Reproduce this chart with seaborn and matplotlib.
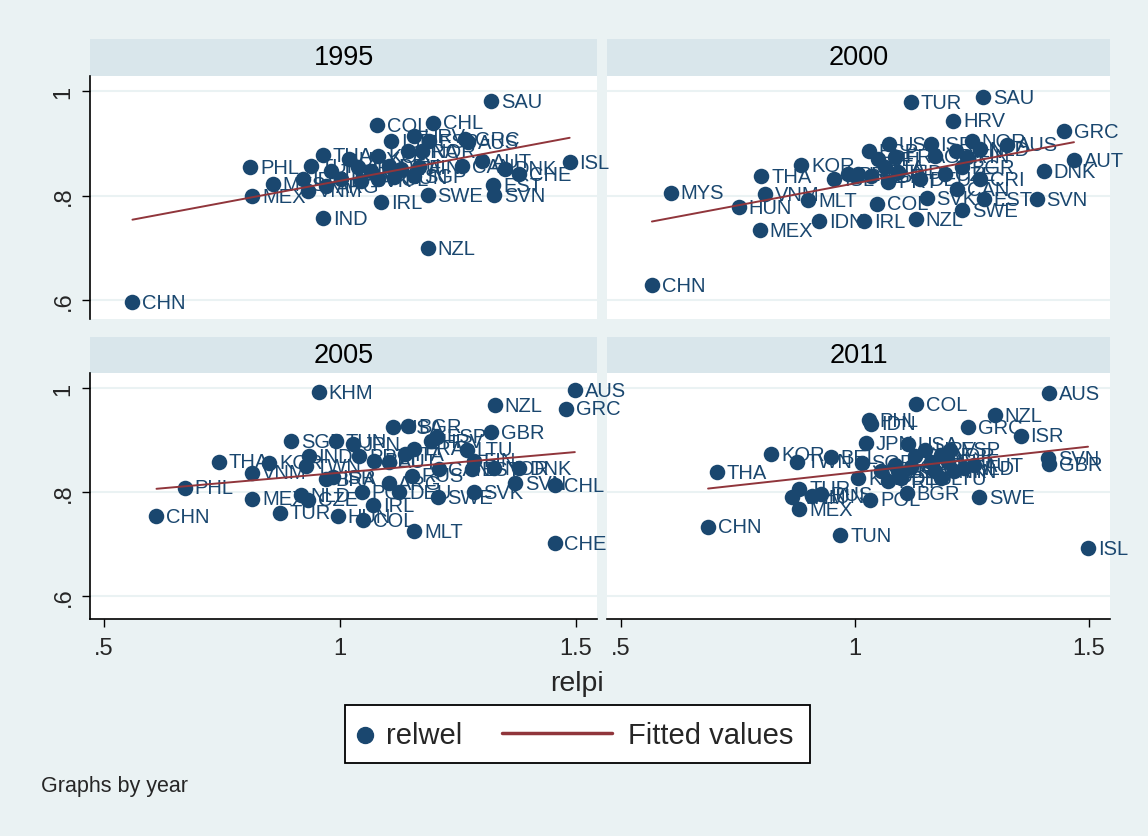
import matplotlib
matplotlib.use("Agg")
import matplotlib.pyplot as plt
from matplotlib.lines import Line2D
from matplotlib.patches import Rectangle
import pandas as pd
import seaborn as sns

## Data
codes_1995 = ["CHN", "PHL", "MEX", "MYS", "VNM", "IND", "THA", "TUR", "IRL", "SWE",
              "NZL", "SAU", "COL", "CHL", "ISL", "EST", "SVN", "AUT", "DNK", "CHE",
              "GRC", "AUS", "NOR", "SGP", "CAN", "ISR", "HRV", "ESP", "KOR", "FRA",
              "URY", "TWN", "JPN", "USA", "DEU", "ITA", "FIN", "BRA", "SVK", "POL",
              "HUN", "ARG", "IDN"]
relpi_1995 = [0.560, 0.810, 0.814, 0.857, 0.932, 0.964, 0.964, 0.938, 1.088, 1.186,
              1.186, 1.321, 1.079, 1.197, 1.487, 1.325, 1.327, 1.301, 1.350, 1.380,
              1.265, 1.271, 1.173, 1.158, 1.259, 1.109, 1.156, 1.188, 1.081, 1.145,
              1.019, 0.981, 1.038, 1.066, 1.103, 1.130, 1.167, 1.002, 1.045, 1.081,
              1.115, 0.970, 0.921]
relwel_1995 = [0.596, 0.854, 0.799, 0.822, 0.809, 0.757, 0.877, 0.856, 0.787, 0.801,
               0.699, 0.981, 0.935, 0.939, 0.864, 0.820, 0.801, 0.866, 0.851, 0.841,
               0.908, 0.902, 0.885, 0.837, 0.856, 0.904, 0.914, 0.904, 0.875, 0.885,
               0.870, 0.847, 0.854, 0.847, 0.856, 0.851, 0.854, 0.831, 0.828, 0.831,
               0.835, 0.818, 0.831]

codes_2000 = ["CHN", "MYS", "HUN", "THA", "VNM", "KOR", "MLT", "MEX", "IDN", "ISL",
              "PHL", "TUR", "SAU", "HRV", "GRC", "AUT", "DNK", "SVN", "SWE", "NZL",
              "IRL", "COL", "EST", "SVK", "CAN", "CRI", "BGR", "NOR", "AUS", "USA",
              "ISR", "ESP", "BEL", "FRA", "ITA", "IND", "DEU", "CZE", "GBR", "JPN",
              "FIN", "NLD", "LTU", "SGP", "PRT", "BRA"]
relpi_2000 = [0.566, 0.606, 0.752, 0.800, 0.807, 0.885, 0.900, 0.796, 0.923, 0.955,
              1.003, 1.119, 1.274, 1.210, 1.447, 1.468, 1.403, 1.388, 1.229, 1.130,
              1.020, 1.048, 1.276, 1.153, 1.219, 1.267, 1.229, 1.250, 1.325, 1.073,
              1.162, 1.029, 1.050, 1.086, 1.065, 1.092, 1.138, 1.193, 1.170, 1.215,
              1.240, 1.267, 1.007, 1.035, 1.071, 0.986]
relwel_2000 = [0.628, 0.805, 0.778, 0.837, 0.803, 0.858, 0.791, 0.734, 0.751, 0.831,
               0.837, 0.979, 0.988, 0.943, 0.923, 0.868, 0.847, 0.793, 0.772, 0.755,
               0.751, 0.784, 0.793, 0.795, 0.812, 0.831, 0.854, 0.904, 0.897, 0.898,
               0.898, 0.885, 0.870, 0.874, 0.854, 0.845, 0.831, 0.841, 0.875, 0.885,
               0.874, 0.889, 0.841, 0.837, 0.826, 0.841]

codes_2005 = ["CHN", "PHL", "THA", "KOR", "VNM", "MEX", "TUR", "SGP", "KHM", "TUN",
              "IND", "TWN", "NLD", "CZE", "HUN", "BRA", "ISR", "AUS", "GRC", "NZL",
              "GBR", "CHE", "CHL", "SVN", "DNK", "SVK", "SWE", "MLT", "IRL", "COL",
              "POL", "DEU", "RUS", "ARG", "CAN", "EST", "NOR", "LTU", "BGR", "USA",
              "HRV", "ESP", "FRA", "ITA", "BEL", "PRT", "JPN", "AUT", "FIN"]
relpi_2005 = [0.611, 0.671, 0.744, 0.850, 0.814, 0.814, 0.872, 0.897, 0.955, 0.991,
              0.934, 0.927, 0.917, 0.932, 0.996, 0.970, 0.985, 1.498, 1.479, 1.329,
              1.321, 1.455, 1.455, 1.372, 1.380, 1.284, 1.207, 1.158, 1.071, 1.049,
              1.047, 1.126, 1.152, 1.103, 1.209, 1.280, 1.327, 1.269, 1.145, 1.113,
              1.194, 1.205, 1.158, 1.137, 1.073, 1.041, 1.028, 1.103, 1.284]
relwel_2005 = [0.754, 0.808, 0.858, 0.856, 0.837, 0.787, 0.760, 0.898, 0.992, 0.898,
               0.869, 0.850, 0.794, 0.785, 0.754, 0.825, 0.829, 0.996, 0.960, 0.967,
               0.915, 0.702, 0.813, 0.817, 0.846, 0.800, 0.790, 0.725, 0.775, 0.746,
               0.800, 0.800, 0.831, 0.817, 0.844, 0.844, 0.846, 0.881, 0.927, 0.925,
               0.898, 0.906, 0.883, 0.873, 0.860, 0.869, 0.892, 0.858, 0.860]

codes_2011 = ["CHN", "THA", "KOR", "TWN", "BEL", "TUR", "VNM", "MEX", "HUN", "RUS",
              "TUN", "ISL", "AUS", "COL", "NZL", "ISR", "GRC", "PHL", "IDN", "JPN",
              "USA", "SVN", "GBR", "SWE", "BGR", "POL", "HRV", "NOR", "ESP", "FRA",
              "ITA", "CZE", "SGP", "KAZ", "PRT", "DEU", "CAN", "DNK", "LTU", "FIN",
              "NLD", "AUT", "CHE", "IRL", "SVK"]
relpi_2011 = [0.686, 0.705, 0.821, 0.876, 0.948, 0.881, 0.866, 0.881, 0.908, 0.927,
              0.969, 1.498, 1.415, 1.130, 1.299, 1.354, 1.242, 1.031, 1.035, 1.024,
              1.113, 1.413, 1.415, 1.265, 1.111, 1.033, 1.149, 1.183, 1.204, 1.128,
              1.086, 1.056, 1.014, 1.007, 1.071, 1.098, 1.119, 1.170, 1.183, 1.212,
              1.234, 1.255, 1.198, 1.162, 1.092]
relwel_2011 = [0.733, 0.838, 0.873, 0.858, 0.867, 0.806, 0.790, 0.767, 0.792, 0.796,
               0.717, 0.692, 0.990, 0.969, 0.948, 0.908, 0.925, 0.938, 0.931, 0.894,
               0.892, 0.865, 0.854, 0.790, 0.798, 0.785, 0.881, 0.871, 0.881, 0.869,
               0.852, 0.840, 0.856, 0.827, 0.821, 0.827, 0.848, 0.840, 0.827, 0.840,
               0.846, 0.852, 0.858, 0.858, 0.840]

years = [1995, 2000, 2005, 2011]
x_ticks = [0.5, 1, 1.5]
x_ticklabels = [".5", "1", "1.5"]
y_ticks = [0.6, 0.8, 1.0]
y_ticklabels = [".6", ".8", "1"]

frames = []
for yr, c, xv, yv in [(1995, codes_1995, relpi_1995, relwel_1995),
                      (2000, codes_2000, relpi_2000, relwel_2000),
                      (2005, codes_2005, relpi_2005, relwel_2005),
                      (2011, codes_2011, relpi_2011, relwel_2011)]:
    frames.append(pd.DataFrame({"year": yr, "code": c, "relpi": xv, "relwel": yv}))
df = pd.concat(frames, ignore_index=True)

# Stata s2color look
BG = "#EAF2F3"
STRIP = "#D9E6EB"
NAVY = "#1A476F"
MAROON = "#90353B"

sns.set_style("white")
plt.rcParams["font.family"] = ["Liberation Sans", "DejaVu Sans"]

W, H = 1148, 837
fig = plt.figure(figsize=(W / 100, H / 100), dpi=100, facecolor=BG)

# panel boxes in pixels: (left, right, top, bottom)
cols = [(90, 597), (607, 1110)]
rows = [(77, 320), (374, 620)]
strips = [(40, 77), (338, 374)]
ylims = [(0.5636, 1.029), (0.556, 1.029)]

for i, yr in enumerate(years):
    r, c = divmod(i, 2)
    l, rr = cols[c]
    t, b = rows[r]
    ax = fig.add_axes([l / W, 1 - b / H, (rr - l) / W, (b - t) / H])
    ax.set_facecolor("white")
    # left panels on top so their labels can run into the gap
    ax.set_zorder(2 if c == 0 else 1)
    sub = df[df["year"] == yr]

    sns.scatterplot(data=sub, x="relpi", y="relwel", ax=ax, s=125, color=NAVY,
                    edgecolor=NAVY, linewidth=0, legend=False, zorder=2)
    for _, row in sub.iterrows():
        ax.annotate(row["code"], (row["relpi"], row["relwel"]), xytext=(7, 0),
                    textcoords="offset points", va="center", ha="left",
                    fontsize=14.5, color=NAVY, zorder=3)
    sns.regplot(data=sub, x="relpi", y="relwel", ax=ax, scatter=False, ci=None,
                truncate=True, color=MAROON, line_kws={"lw": 1.4, "zorder": 4})

    ax.set_xlim(0.47, 1.545)
    ax.set_ylim(*ylims[r])
    ax.set_yticks(y_ticks)
    ax.set_xticks(x_ticks)
    for yv in y_ticks:
        ax.axhline(yv, color=BG, lw=1.5, zorder=0)
    ax.set_xlabel("")
    ax.set_ylabel("")
    for s in ax.spines.values():
        s.set_visible(False)

    if c == 0:
        ax.spines["left"].set_visible(True)
        ax.spines["left"].set_color("black")
        ax.spines["left"].set_linewidth(1.2)
        ax.set_yticklabels(y_ticklabels, rotation=90, va="center", fontsize=17)
        ax.tick_params(axis="y", left=True, length=6, width=1, color="black", pad=5)
    else:
        ax.tick_params(axis="y", left=False, labelleft=False)
    if r == 1:
        ax.spines["bottom"].set_visible(True)
        ax.spines["bottom"].set_color("black")
        ax.spines["bottom"].set_linewidth(1.2)
        ax.set_xticklabels(x_ticklabels, fontsize=17)
        ax.tick_params(axis="x", bottom=True, length=6, width=1, color="black", pad=7)
    else:
        ax.tick_params(axis="x", bottom=False, labelbottom=False)

    # strip with year
    st, sb = strips[r]
    fig.patches.append(Rectangle((l / W, 1 - sb / H), (rr - l) / W, (sb - st) / H,
                                 transform=fig.transFigure, facecolor=STRIP,
                                 edgecolor="none", zorder=0))
    fig.text((l + rr) / 2 / W, 1 - (st + sb) / 2 / H, str(yr), ha="center",
             va="center", fontsize=19.5, color="black")

fig.text(577 / W, 1 - 684 / H, "relpi", ha="center", va="center", fontsize=20.5)
fig.text(41 / W, 1 - 787 / H, "Graphs by year", ha="left", va="center", fontsize=15.5)

# legend box drawn by hand, Stata style
fig.patches.append(Rectangle((345 / W, 1 - 764 / H), 465 / W, 58 / H,
                             transform=fig.transFigure, facecolor="white",
                             edgecolor="black", lw=1.3, zorder=1))
fig.lines.append(Line2D([365 / W], [1 - 736 / H], transform=fig.transFigure,
                        marker="o", ls="none", color=NAVY, markersize=11.5, zorder=2))
fig.text(386 / W, 1 - 736 / H, "relwel", ha="left", va="center", fontsize=21)
fig.lines.append(Line2D([502 / W, 612 / W], [1 - 734 / H, 1 - 734 / H],
                        transform=fig.transFigure, color=MAROON, lw=2.5, zorder=2))
fig.text(628 / W, 1 - 736 / H, "Fitted values", ha="left", va="center", fontsize=21)

fig.savefig("out.png", dpi=100, facecolor=BG)
